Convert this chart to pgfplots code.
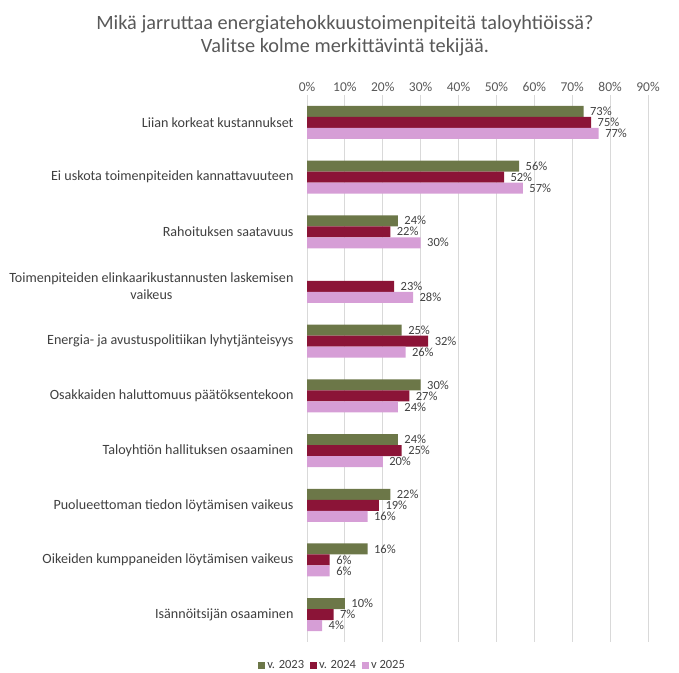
\documentclass[border=0pt]{standalone}
\usepackage{pgfplots}
\pgfplotsset{compat=1.18}
\usepackage{fontspec}
\setmainfont{Carlito}
\definecolor{c23}{HTML}{6C7748}
\definecolor{c24}{HTML}{8B1437}
\definecolor{c25}{HTML}{D69ED6}
\definecolor{txt}{HTML}{404040}
\definecolor{ttl}{HTML}{595959}
\definecolor{grd}{HTML}{D9D9D9}
\begin{document}
\begin{tikzpicture}[x=1pt,y=1pt]
\useasboundingbox (0,0) rectangle (679,672);
\node[align=center, font=\fontsize{20.3}{23}\selectfont, text=ttl] at (345,636) {Mikä jarruttaa energiatehokkuustoimenpiteitä taloyhtiöissä?\\Valitse kolme merkittävintä tekijää.};
\begin{axis}[
  at={(307pt,30pt)}, anchor=south west,
  scale only axis, width=341pt, height=547pt,
  xbar, bar width=11pt,
  xmin=0, xmax=90, ymin=0.5, ymax=10.5, y dir=reverse,
  axis x line*=top, axis y line*=left,
  axis line style={draw=none},
  xtick={0,10,...,90},
  xticklabel={\pgfmathprintnumber{\tick}\%},
  xticklabel style={font=\fontsize{13.5}{15}\selectfont, text=ttl},
  /pgf/number format/assume math mode=true,
  major tick length=0pt,
  xmajorgrids, grid style={grd, line width=0.8pt},
  ytick={1,...,10},
  yticklabels={Liian korkeat kustannukset, Ei uskota toimenpiteiden kannattavuuteen, Rahoituksen saatavuus, {Toimenpiteiden elinkaarikustannusten laskemisen\\vaikeus}, Energia- ja avustuspolitiikan lyhytjänteisyys, Osakkaiden haluttomuus päätöksentekoon, Taloyhtiön hallituksen osaaminen, Puolueettoman tiedon löytämisen vaikeus, Oikeiden kumppaneiden löytämisen vaikeus, Isännöitsijän osaaminen},
  yticklabel style={font=\fontsize{14.1}{17}\selectfont, text=txt, align=center, xshift=-10pt},
  nodes near coords={\pgfmathprintnumber{\pgfplotspointmeta}\%},
  every node near coord/.append style={font=\fontsize{12.5}{13}\selectfont, text=txt, xshift=3pt, inner ysep=0pt},
  legend columns=3,
  legend style={draw=none, at={(axis description cs:0.075,0)}, anchor=center, yshift=-23pt, font=\fontsize{12.5}{14}\selectfont, text=txt, /tikz/every even column/.append style={column sep=4pt}},
  legend image code/.code={\fill[#1] (0pt,-3.5pt) rectangle (7pt,3.5pt);},
]
\addplot[fill=c23, draw=none, bar shift=11pt] coordinates {(73,1) (56,2) (24,3) (25,5) (30,6) (24,7) (22,8) (16,9) (10,10)};
\addplot[fill=c24, draw=none, bar shift=0pt] coordinates {(75,1) (52,2) (22,3) (23,4) (32,5) (27,6) (25,7) (19,8) (6,9) (7,10)};
\addplot[fill=c25, draw=none, bar shift=-11pt] coordinates {(77,1) (57,2) (30,3) (28,4) (26,5) (24,6) (20,7) (16,8) (6,9) (4,10)};
\legend{v. 2023, v. 2024, v 2025}
\end{axis}
\end{tikzpicture}
\end{document}
